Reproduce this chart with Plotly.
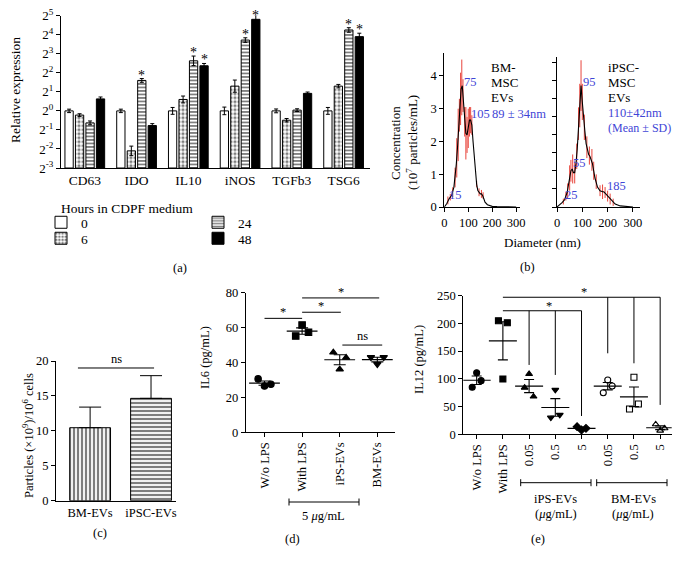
import numpy as np
import plotly.graph_objects as go

# the page body keeps an 8px margin, so the figure is drawn 16px smaller
# and every position below is given in the 682x567 picture's pixels
PAGE_W, PAGE_H, PAD = 682, 567, 8
W, H = PAGE_W - 2 * PAD, PAGE_H - 2 * PAD
FONT = "Liberation Serif"
BLUE = "#3f46d6"
RED = "#e8453c"


def px(x):
    return (x - PAD) / W


def py(y):
    return 1 - (y - PAD) / H


# ---- (a) relative expression, log2 units ----
genes = ["CD63", "IDO", "IL10", "iNOS", "TGFb3", "TSG6"]
hours = ["0", "6", "24", "48"]
expr_0h = [0, 0, 0, 0, 0, 0]
expr_6h = [-0.22, -2.1, 0.6, 1.3, -0.49, 1.3]
expr_24h = [-0.63, 1.6, 2.63, 3.72, 0.04, 4.25]
expr_48h = [0.63, -0.77, 2.37, 4.81, 0.92, 3.9]
err_0h = [0.09, 0.09, 0.18, 0.2, 0.1, 0.18]
err_6h = [0.07, 0.25, 0.18, 0.32, 0.09, 0.09]
err_24h = [0.1, 0.1, 0.25, 0.12, 0.07, 0.12]
err_48h = [0.1, 0.1, 0.12, 0.23, 0.07, 0.18]
sig_24h = [False, True, True, True, False, True]
sig_48h = [False, False, True, True, False, True]
ytick_pow = list(range(-3, 6))

# ---- (b) NTA size distributions ----
bm_diam = [0, 10, 20, 30, 40, 45, 50, 55, 60, 65, 70, 75, 80, 85, 90, 95, 100, 105, 110, 115,
           120, 125, 130, 135, 140, 145, 150, 155, 160, 165, 170, 180, 190, 200, 220, 250, 300]
bm_conc = [0, 0.1, 0.25, 0.35, 0.6, 0.9, 1.3, 1.8, 2.4, 3.0, 3.6, 3.7, 3.2, 2.6, 2.25, 2.2, 2.4, 2.65, 2.65, 2.5,
           2.0, 1.5, 1.0, 0.7, 0.5, 0.45, 0.4, 0.4, 0.35, 0.25, 0.15, 0.07, 0.04, 0.02, 0.01, 0.005, 0]
bm_sd_diam = [15, 25, 35, 45, 52, 58, 63, 68, 73, 78, 85, 90, 95, 100, 105, 110, 115, 135, 145, 155, 162]
bm_sd_mid = [0.2, 0.3, 0.45, 0.9, 1.5, 2.2, 2.8, 3.3, 3.65, 3.4, 2.6, 2.25, 2.2, 2.4, 2.6, 2.65, 2.5,
             0.7, 0.45, 0.4, 0.35]
bm_sd = [0.12, 0.1, 0.15, 0.3, 0.6, 0.8, 0.5, 0.8, 0.85, 0.5, 0.45, 0.8, 0.55, 0.6, 0.45, 0.4, 0.3,
         0.1, 0.12, 0.12, 0.1]
ips_diam = [0, 10, 20, 30, 40, 45, 50, 55, 60, 65, 70, 75, 80, 85, 90, 95, 100, 105, 110, 115,
            120, 125, 130, 135, 140, 145, 150, 160, 170, 180, 185, 190, 200, 210, 220, 230, 250, 270, 300]
ips_conc = [0, 0.05, 0.12, 0.2, 0.4, 0.6, 0.8, 1.0, 1.05, 0.95, 0.95, 1.2, 1.6, 2.3, 2.8, 3.35, 2.9, 2.4, 2.1, 1.75,
            1.55, 1.45, 1.4, 1.3, 1.2, 1.0, 0.8, 0.55, 0.45, 0.42, 0.42, 0.38, 0.3, 0.22, 0.14, 0.08, 0.03, 0.01, 0]
ips_sd_diam = [25, 35, 42, 50, 55, 62, 70, 78, 85, 90, 95, 100, 108, 118, 128, 138, 145, 155, 170, 180,
               190, 200, 210, 222]
ips_sd_mid = [0.15, 0.3, 0.45, 0.8, 1.0, 1.05, 0.95, 1.4, 2.3, 2.8, 3.35, 2.9, 2.2, 1.65, 1.42, 1.3, 1.0,
              0.7, 0.45, 0.42, 0.4, 0.3, 0.22, 0.13]
ips_sd = [0.08, 0.12, 0.2, 0.35, 0.3, 0.4, 0.3, 0.35, 0.45, 0.6, 0.7, 0.5, 0.35, 0.3, 0.25, 0.3, 0.25,
          0.2, 0.15, 0.2, 0.15, 0.15, 0.15, 0.1]
bm_peaks = [(12, 0.37, "15"), (74, 3.82, "75"), (101, 2.84, "105")]
ips_peaks = [(23, 0.33, "25"), (57, 1.21, "55"), (96, 3.45, "95"), (190, 0.58, "185")]

# ---- (c) particle yield ----
yield_groups = ["BM-EVs", "iPSC-EVs"]
yield_mean = [10.45, 14.65]
yield_sd = [2.95, 3.25]

# ---- (d) IL6 ----
il6_groups = ["W/o LPS", "With LPS", "iPS-EVs", "BM-EVs"]
il6_values = [[30.6, 26.5, 27.5], [55.2, 61.5, 57.3], [45.8, 36.1, 42.8], [43, 39, 43]]
il6_symbols = ["circle", "square", "triangle-up", "triangle-down"]
il6_sig = [(0, 1, 65.3, "*"), (1, 2.03, 68.8, "*"), (1, 3.05, 77, "*"), (2.07, 3.13, 50, "ns")]

# ---- (e) IL12 ----
il12_groups = ["W/o LPS", "With LPS", "0.05", "0.5", "5", "0.05", "0.5", "5"]
il12_values = [[84.7, 111, 96.7], [204.8, 99.7, 201], [84, 108.7, 68], [30, 80, 35],
               [13.8, 7.8, 10.8], [75, 98, 87], [45.6, 102.7, 54.6], [18, 6.6, 10.8]]
il12_symbols = ["circle", "square", "triangle-up", "triangle-down", "diamond",
                "circle-open", "square-open", "triangle-up-open"]
jitter = [-0.17, 0, 0.17]

fig = go.Figure()
annotations = []
shapes = []
line_k = dict(color="black", width=1)


def text(x, y, t, size=13, angle=0, color="black", anchor="center"):
    annotations.append(dict(x=px(x), y=py(y), xref="paper", yref="paper", text=t, showarrow=False,
                            textangle=angle, xanchor=anchor, yanchor="middle",
                            font=dict(size=size, color=color)))


# (a) bars, one legend box per series so each can be placed like the original
A_DOM = [py(168), py(15.7)]
patterns = [
    dict(shape=""),
    dict(shape=".", size=4, solidity=0.5, fgcolor="black", bgcolor="white"),
    dict(shape="-", size=3.5, solidity=0.5, fgcolor="black", bgcolor="white"),
    dict(shape=""),
]
fills = ["white", "white", "white", "black"]
series = [expr_0h, expr_6h, expr_24h, expr_48h]
errs = [err_0h, err_6h, err_24h, err_48h]
legend_names = ["legend", "legend2", "legend3", "legend4"]
for i, h in enumerate(hours):
    fig.add_trace(go.Bar(
        x=list(range(len(genes))), y=np.array(series[i]) + 3, base=-3,
        name=h, legend=legend_names[i],
        marker=dict(color=fills[i], line=dict(color="black", width=1), pattern=patterns[i]),
        error_y=dict(type="data", array=errs[i], color="black", thickness=1, width=2),
        xaxis="x", yaxis="y", hoverinfo="skip",
    ))

slot = 0.81 / 4
for k, (vals, ers, sig) in enumerate([(expr_24h, err_24h, sig_24h), (expr_48h, err_48h, sig_48h)]):
    off = (k + 2 - 1.5) * slot
    for g in range(len(genes)):
        if sig[g]:
            top = vals[g] + ers[g]
            yp = A_DOM[0] + (top + 3) / 8 * (A_DOM[1] - A_DOM[0])
            # the tallest bar sits against the top edge: nudge its star down so it stays visible
            annotations.append(dict(x=g + off, y=yp, xref="x", yref="paper", text="*",
                                    showarrow=False, yanchor="bottom", yshift=-6 if top < 4.9 else -10,
                                    font=dict(size=14, color="black")))

# (b) size distributions: red SD bars under the black mean curve
for d, m, s, ln_x, ln_y, xr, yr in [(bm_sd_diam, bm_sd_mid, bm_sd, bm_diam, bm_conc, "x2", "y2"),
                                    (ips_sd_diam, ips_sd_mid, ips_sd, ips_diam, ips_conc, "x3", "y3")]:
    fig.add_trace(go.Scatter(x=d, y=m, mode="markers", marker=dict(size=0, opacity=0),
                             error_y=dict(type="data", array=s, color=RED, thickness=1, width=0),
                             xaxis=xr, yaxis=yr, showlegend=False))
    fig.add_trace(go.Scatter(x=ln_x, y=ln_y, mode="lines", line=dict(color="black", width=1.1),
                             xaxis=xr, yaxis=yr, showlegend=False))
for xr, yr, peaks in [("x2", "y2", bm_peaks), ("x3", "y3", ips_peaks)]:
    for xv, yv, t in peaks:
        annotations.append(dict(x=xv, y=yv, xref=xr, yref=yr, text=t, showarrow=False,
                                xanchor="left", font=dict(size=12.5, color=BLUE)))

# (c) bars
fig.add_trace(go.Bar(
    x=[0, 1], y=yield_mean, width=0.67,
    marker=dict(color="white", line=dict(color="black", width=1),
                pattern=dict(shape=["|", "-"], size=4, solidity=0.55, fgcolor="black", bgcolor="white")),
    error_y=dict(type="data", symmetric=False, array=yield_sd, arrayminus=[0, 0],
                 color="black", thickness=1, width=11),
    xaxis="x4", yaxis="y4", showlegend=False,
))


# (d), (e) dot plots with mean +- SEM
def dot_plot(values, symbols, xr, yr, size, mean_w, cap_w):
    for g, vals in enumerate(values):
        vals = np.array(vals)
        fig.add_trace(go.Scatter(
            x=[g + j for j in jitter], y=vals, mode="markers",
            marker=dict(symbol=symbols[g], size=size, color="black",
                        line=dict(color="black", width=1.1)),
            xaxis=xr, yaxis=yr, showlegend=False))
        mean = vals.mean()
        sem = vals.std(ddof=1) / np.sqrt(len(vals))
        fig.add_trace(go.Scatter(
            x=[g], y=[mean], mode="markers",
            marker=dict(symbol="line-ew", size=mean_w, line=dict(color="black", width=1.2)),
            error_y=dict(type="data", array=[sem], color="black", thickness=1.1, width=cap_w),
            xaxis=xr, yaxis=yr, showlegend=False))


dot_plot(il6_values, il6_symbols, "x5", "y5", 6.5, 22, 6)
dot_plot(il12_values, il12_symbols, "x6", "y6", 6, 20, 5)

# significance bars
annotations.append(dict(x=0.43, y=19.0, xref="x4", yref="y4", text="ns", showarrow=False,
                        yanchor="bottom", font=dict(size=12.5, color="black")))
shapes.append(dict(type="line", xref="x4", yref="y4", x0=-0.2, x1=1.05, y0=19.0, y1=19.0, line=line_k))
for x0, x1, yv, t in il6_sig:
    shapes.append(dict(type="line", xref="x5", yref="y5", x0=x0, x1=x1, y0=yv, y1=yv, line=line_k))
    annotations.append(dict(x=(x0 + x1) / 2, y=yv, xref="x5", yref="y5", text=t, showarrow=False,
                            yanchor="bottom", yshift=-3 if t == "*" else 0,
                            font=dict(size=12.5, color="black")))
il12_sig = [(1, 7, 247, 4.1, [(5, 146), (6, 128), (7, 53)]),
            (1, 4, 222.7, 2.76, [(2, 125), (3, 107), (4, 33)])]
for x0, x1, yv, xstar, drops in il12_sig:
    shapes.append(dict(type="line", xref="x6", yref="y6", x0=x0, x1=x1, y0=yv, y1=yv, line=line_k))
    for xd, yd in drops:
        shapes.append(dict(type="line", xref="x6", yref="y6", x0=xd, x1=xd, y0=yv, y1=yd, line=line_k))
    annotations.append(dict(x=xstar, y=yv, xref="x6", yref="y6", text="*",
                            showarrow=False, yanchor="bottom", yshift=-4,
                            font=dict(size=12.5, color="black")))


def bracket(x0, x1, y, h=3.5):
    for xa, xb, ya, yb in [(x0, x1, y, y), (x0, x0, y - h, y + h), (x1, x1, y - h, y + h)]:
        shapes.append(dict(type="line", xref="paper", yref="paper", x0=px(xa), x1=px(xb),
                           y0=py(ya), y1=py(yb), line=line_k))


bracket(289, 359, 502)
bracket(520.7, 591, 482.7)
bracket(596.7, 667, 482.7)

text(15, 90, "Relative expression", 13.5, -90)
text(59, 208, "Hours in CDPF medium", 13.5, anchor="left")
text(395, 143, "Concentration", 13, -90)
text(412, 143, "(10<sup>7</sup> particles/mL)", 13, -90)
text(542, 242, "Diameter (nm)", 13)
for yy, t in [(67, "BM-"), (83, "MSC"), (98, "EVs")]:
    text(489, yy, t, 13, anchor="left")
text(490, 114, "89 ± 34nm", 12.5, color=BLUE, anchor="left")
for yy, t in [(67, "iPSC-"), (83, "MSC"), (98, "EVs")]:
    text(606, yy, t, 13, anchor="left")
text(606, 113, "110±42nm", 12.5, color=BLUE, anchor="left")
text(606, 128, "(Mean ± SD)", 12, color=BLUE, anchor="left")
text(28, 436, "Particles (×10<sup>9</sup>)/10<sup>6</sup> cells", 12.5, -90)
text(205, 358, "IL6 (pg/mL)", 12.5, -90)
text(419, 360, "IL12 (pg/mL)", 12.5, -90)
text(323, 516, "5 <i>μ</i>g/mL", 12.5)
text(555.7, 499, "iPS-EVs", 12.5)
text(555.7, 514, "(<i>μ</i>g/mL)", 12.5)
text(633, 499, "BM-EVs", 12.5)
text(633, 514, "(<i>μ</i>g/mL)", 12.5)
for x, y, t in [(180, 268, "(a)"), (527, 267, "(b)"), (100, 533, "(c)"), (292, 539, "(d)"), (538, 539, "(e)")]:
    text(x, y, t, 12.5)

tickfont = dict(family=FONT, size=12.5, color="black")
ax = dict(showline=True, linecolor="black", linewidth=1, showgrid=False, zeroline=False,
          ticks="outside", ticklen=4, tickwidth=1, tickcolor="black", tickfont=tickfont,
          fixedrange=True, automargin=False, ticklabeloverflow="allow")

leg = dict(xanchor="left", yanchor="top", bgcolor="rgba(0,0,0,0)", font=dict(size=13.5),
           tracegroupgap=0, itemwidth=30)
legend_pos = [(41, 207), (41, 223), (198, 207), (198, 223)]
legend_layout = {name: dict(leg, x=px(lx), y=py(ly)) for name, (lx, ly) in zip(legend_names, legend_pos)}

fig.update_layout(
    width=W, height=H, margin=dict(l=0, r=0, t=0, b=0, autoexpand=False),
    paper_bgcolor="white", plot_bgcolor="white",
    font=dict(family=FONT, color="black", size=13),
    barmode="group", bargap=0.19, bargroupgap=0.21,
    xaxis=dict(ax, domain=[px(61), px(370)], range=[-0.46, 5.51], tickvals=list(range(6)),
               ticktext=genes, ticks="", anchor="y", tickfont=dict(tickfont, size=13.5)),
    yaxis=dict(ax, domain=A_DOM, range=[-3, 5], tickvals=ytick_pow,
               ticktext=["2<sup>%d</sup>" % p for p in ytick_pow], anchor="x",
               tickfont=dict(tickfont, size=13)),
    xaxis2=dict(ax, domain=[px(444.3), px(520)], range=[0, 316], tickvals=[0, 100, 200, 300], anchor="y2"),
    yaxis2=dict(ax, domain=[py(207), py(53)], range=[0, 4.7], tickvals=[0, 1, 2, 3, 4], anchor="x2"),
    xaxis3=dict(ax, domain=[px(557), px(640)], range=[0, 328], tickvals=[0, 100, 200, 300], anchor="y3"),
    yaxis3=dict(ax, domain=[py(207), py(57)], range=[0, 4.14], dtick=0.5, showticklabels=False, anchor="x3"),
    xaxis4=dict(ax, domain=[px(56), px(176)], range=[-0.56, 1.41], tickvals=[0, 1],
                ticktext=yield_groups, ticks="", anchor="y4"),
    yaxis4=dict(ax, domain=[py(500.7), py(361)], range=[0, 20], dtick=5, anchor="x4"),
    xaxis5=dict(ax, domain=[px(245.7), px(395)], range=[-0.5, 3.47], tickvals=list(range(4)),
                ticktext=il6_groups, tickangle=-90, anchor="y5"),
    yaxis5=dict(ax, domain=[py(432.3), py(292.7)], range=[0, 80], dtick=20, anchor="x5"),
    xaxis6=dict(ax, domain=[px(463.3), px(671.7)], range=[-0.51, 7.44], tickvals=list(range(8)),
                ticktext=il12_groups, tickangle=-90, anchor="y6"),
    yaxis6=dict(ax, domain=[py(434.3), py(295.6)], range=[0, 250], dtick=50, anchor="x6"),
    shapes=shapes, annotations=annotations,
    **legend_layout,
)

fig.write_html("out.html")
